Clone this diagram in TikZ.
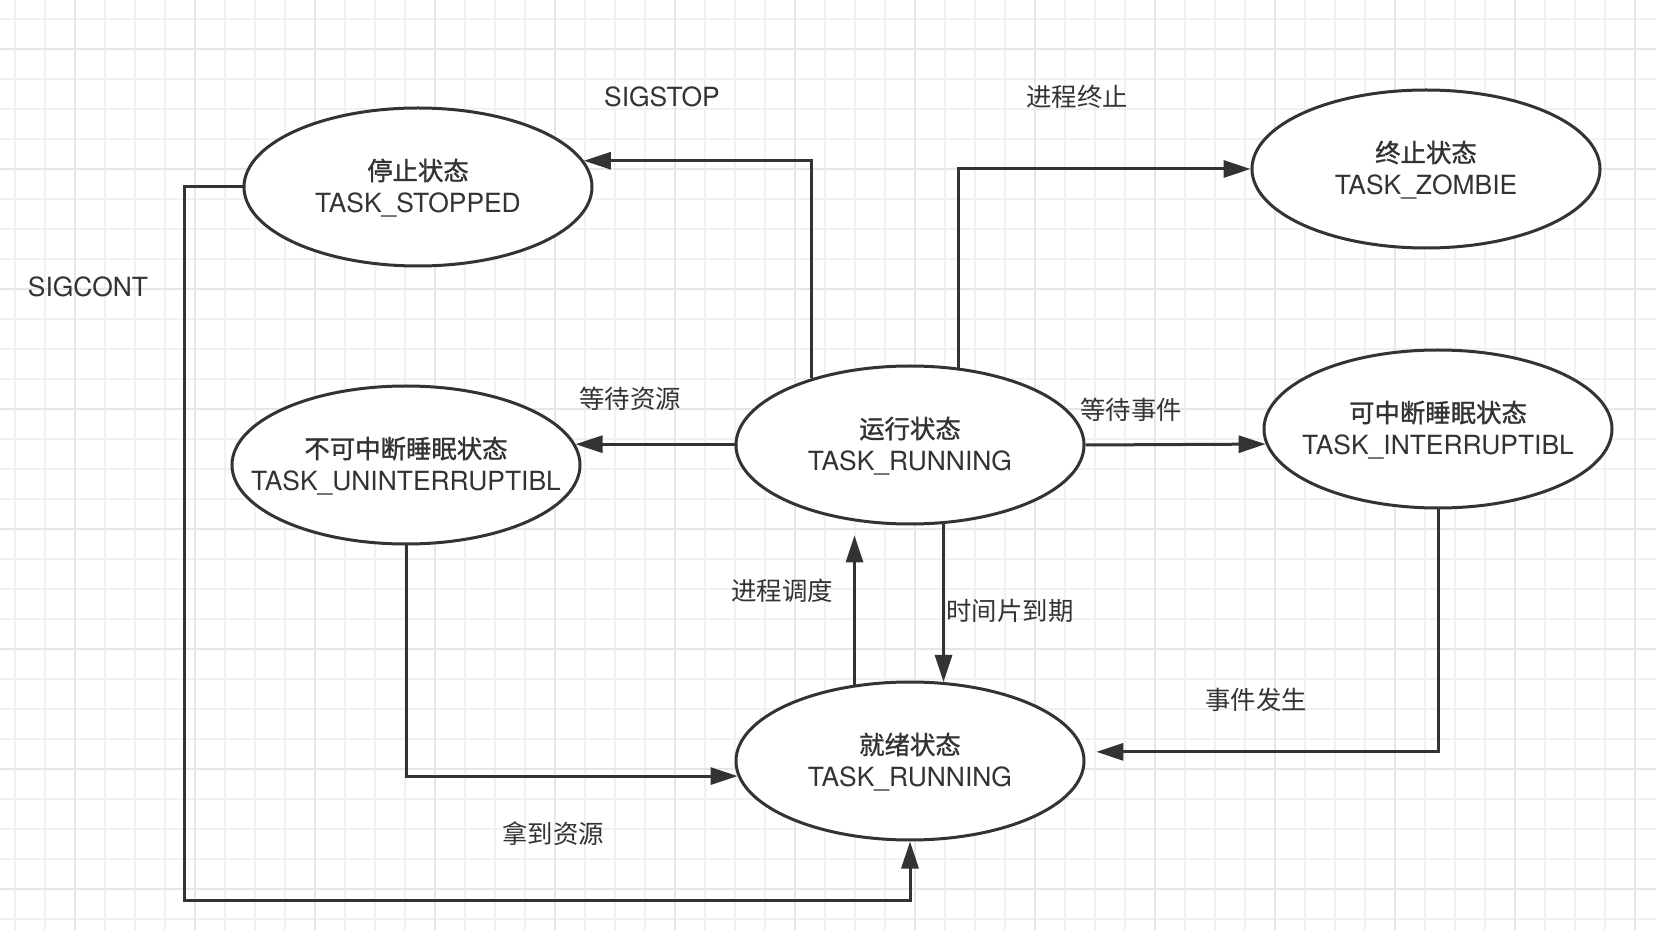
\documentclass[tikz,border=0pt]{standalone}
\usepackage{fontspec}
\setmainfont{TeX Gyre Heros}[Scale=1.04]
\newfontfamily\cjk{Noto Sans CJK SC}
\newfontfamily\cjkb{Noto Sans CJK SC}[FakeBold=1.2]
\usetikzlibrary{shapes.geometric,arrows.meta}
\definecolor{ink}{HTML}{333333}
\definecolor{gridminor}{HTML}{F1F1F1}
\definecolor{gridmajor}{HTML}{E6E6E6}
\newcommand\stlabel[2]{\makebox[0pt][c]{\raisebox{-4.4pt}[0pt][0pt]{\begin{tabular}{@{}c@{}}{\cjkb #1}\\#2\end{tabular}}}}
\begin{document}
\begin{tikzpicture}[x=0.5pt,y=-0.5pt,
  state/.style={ellipse, draw=ink, line width=1.5pt, fill=white, minimum width=174pt, minimum height=79pt, inner sep=0pt, text=ink, font=\fontsize{12.7}{16}\selectfont},
  lbl/.style={text=ink, font=\fontsize{12.7}{15}\selectfont, inner sep=0pt},
  conn/.style={draw=ink, line width=1.5pt, -{Triangle[length=13.5pt,width=8.5pt]}}]
\fill[white] (0,0) rectangle (1656,930);
\useasboundingbox (0,0) rectangle (1656,930);
\foreach \x in {15,45,...,1635} \draw[gridminor, line width=0.6pt] (\x,0) -- (\x,930);
\foreach \y in {19,49,...,919} \draw[gridminor, line width=0.6pt] (0,\y) -- (1656,\y);
\foreach \x in {75,195,...,1635} \draw[gridmajor, line width=0.7pt] (\x,0) -- (\x,930);
\foreach \y in {49,169,...,889} \draw[gridmajor, line width=0.7pt] (0,\y) -- (1656,\y);

\node[state] (stopped) at (418,187) {\stlabel{停止状态}{TASK\_STOPPED}};
\node[state] (zombie) at (1426,169) {\stlabel{终止状态}{TASK\_ZOMBIE}};
\node[state] (unint) at (406,465) {\stlabel{不可中断睡眠状态}{TASK\_UNINTERRUPTIBL}};
\node[state] (running) at (910,445) {\stlabel{运行状态}{TASK\_RUNNING}};
\node[state] (inter) at (1438,429) {\stlabel{可中断睡眠状态}{TASK\_INTERRUPTIBL}};
\node[state] (ready) at (910,761) {\stlabel{就绪状态}{TASK\_RUNNING}};

\coordinate (sc) at (184,900);

\draw[conn] (running.146.7) |- (stopped.9.5);
\draw[conn] (running.58) |- (zombie.west);
\draw[conn] (running.west) -- ++(-80,0) |- (unint.7.2);
\draw[conn] (running.east) -- (inter.185.3);
\draw[conn] (running.-67.2) -- (ready.67.2);
\draw[conn, shorten >=7pt] (ready.126.5) -- (running.-126.5);
\draw[conn] (unint.south) |- (ready.185.3);
\draw[conn, shorten >=6pt] (inter.south) |- (ready.3);
\draw[conn] (stopped.west) -| (sc) -| (ready.south);

\node[lbl] (tstop) at (662,97) {SIGSTOP};
\node[lbl] (tterm) at (1077,97) {\cjk 进程终止};
\node[lbl] (tcont) at (88,287) {SIGCONT};
\node[lbl] (twres) at (630,399) {\cjk 等待资源};
\node[lbl] (twevt) at (1131,410) {\cjk 等待事件};
\node[lbl] (tsched) at (782,591) {\cjk 进程调度};
\node[lbl] (tslice) at (1010,611) {\cjk 时间片到期};
\node[lbl] (tevt) at (1256,700) {\cjk 事件发生};
\node[lbl] (tgot) at (553,834) {\cjk 拿到资源};
\end{tikzpicture}
\end{document}
